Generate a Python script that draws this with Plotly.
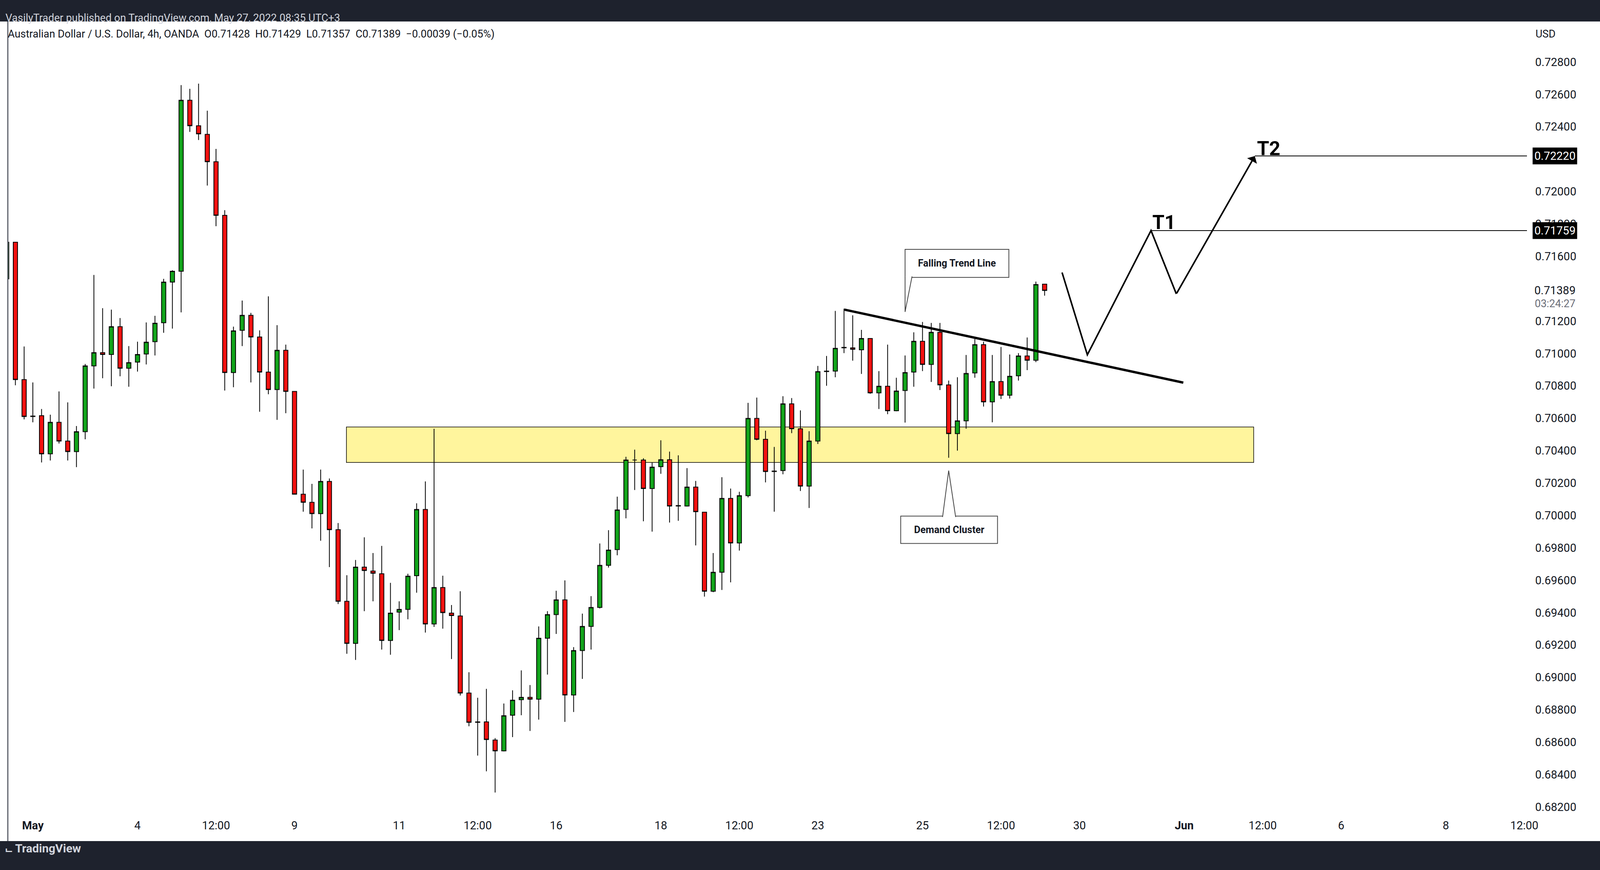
"""AUD/USD 4h chart from TradingView (VasilyTrader idea, May 27 2022) rebuilt in Plotly."""

import plotly.graph_objects as go

# 4h candles, bar index 0..119
opens = [
    0.71461, 0.71687, 0.70839, 0.70614, 0.70616, 0.70380, 0.70575, 0.70459, 0.70394, 0.70517,
    0.70923, 0.71005, 0.70994, 0.71166, 0.70909, 0.70947, 0.70997, 0.71073, 0.71190, 0.71441,
    0.71508, 0.72564, 0.72406, 0.72353, 0.72184, 0.71853, 0.70882, 0.71143, 0.71236, 0.71102,
    0.70885, 0.70777, 0.71020, 0.70766, 0.70131, 0.70081, 0.70011, 0.70210, 0.69912, 0.69470,
    0.69210, 0.69681, 0.69657, 0.69640, 0.69228, 0.69403, 0.69420, 0.69628, 0.70037, 0.69330,
    0.69555, 0.69397, 0.69379, 0.68903, 0.68725, 0.68725, 0.68613, 0.68546, 0.68766, 0.68862,
    0.68877, 0.68865, 0.69242, 0.69388, 0.69479, 0.68891, 0.69166, 0.69315, 0.69432, 0.69692,
    0.69789, 0.70037, 0.70342, 0.70342, 0.70166, 0.70301, 0.70344, 0.70061, 0.70058, 0.70175,
    0.70020, 0.69532, 0.69649, 0.70105, 0.69830, 0.70122, 0.70599, 0.70470, 0.70274, 0.70277,
    0.70689, 0.70535, 0.70181, 0.70459, 0.70888, 0.70891, 0.71038, 0.71035, 0.71023, 0.71093,
    0.70757, 0.70798, 0.70646, 0.70771, 0.70885, 0.71075, 0.70932, 0.71131, 0.70806, 0.70505,
    0.70584, 0.70880, 0.71055, 0.70701, 0.70827, 0.70742, 0.70862, 0.70985, 0.70958, 0.71428,
]
highs = [
    0.71710, 0.71687, 0.71043, 0.70821, 0.70657, 0.70622, 0.70766, 0.70698, 0.70552, 0.70935,
    0.71485, 0.71280, 0.71271, 0.71219, 0.71046, 0.71073, 0.71192, 0.71233, 0.71461, 0.71514,
    0.72657, 0.72634, 0.72666, 0.72499, 0.72263, 0.71885, 0.71166, 0.71327, 0.71251, 0.71143,
    0.71353, 0.71175, 0.71055, 0.70766, 0.70283, 0.70195, 0.70283, 0.70228, 0.69953, 0.69631,
    0.69725, 0.69865, 0.69768, 0.69812, 0.69584, 0.69470, 0.69640, 0.70075, 0.70210, 0.70535,
    0.69628, 0.69447, 0.69532, 0.69032, 0.68874, 0.68929, 0.68625, 0.68839, 0.68920, 0.69043,
    0.68953, 0.69315, 0.69409, 0.69535, 0.69599, 0.69187, 0.69394, 0.69502, 0.69827, 0.69909,
    0.70116, 0.70362, 0.70406, 0.70353, 0.70327, 0.70464, 0.70394, 0.70371, 0.70292, 0.70213,
    0.70020, 0.69768, 0.70236, 0.70166, 0.70146, 0.70695, 0.70728, 0.70523, 0.70423, 0.70736,
    0.70725, 0.70649, 0.70520, 0.70923, 0.70985, 0.71263, 0.71277, 0.71236, 0.71146, 0.71093,
    0.70891, 0.71055, 0.70850, 0.70988, 0.71131, 0.71195, 0.71189, 0.71189, 0.70833, 0.70853,
    0.70991, 0.71090, 0.71073, 0.70991, 0.71040, 0.70994, 0.71002, 0.71099, 0.71444, 0.71429,
]
lows = [
    0.71447, 0.70804, 0.70593, 0.70575, 0.70327, 0.70339, 0.70444, 0.70339, 0.70298, 0.70470,
    0.70783, 0.70847, 0.70798, 0.70859, 0.70795, 0.70888, 0.70932, 0.70988, 0.71128, 0.71154,
    0.71254, 0.72368, 0.72318, 0.72037, 0.71786, 0.70771, 0.70792, 0.71046, 0.70821, 0.70640,
    0.70748, 0.70590, 0.70631, 0.70131, 0.70023, 0.69920, 0.69844, 0.69681, 0.69453, 0.69146,
    0.69108, 0.69409, 0.69470, 0.69172, 0.69140, 0.69292, 0.69359, 0.69523, 0.69277, 0.69312,
    0.69301, 0.69113, 0.68888, 0.68698, 0.68517, 0.68420, 0.68289, 0.68543, 0.68631, 0.68766,
    0.68669, 0.68739, 0.69017, 0.69268, 0.68725, 0.68786, 0.68991, 0.69172, 0.69426, 0.69678,
    0.69754, 0.69982, 0.70157, 0.69964, 0.69900, 0.70257, 0.69956, 0.69967, 0.70055, 0.69815,
    0.69499, 0.69526, 0.69540, 0.69587, 0.69783, 0.70111, 0.70464, 0.70204, 0.70023, 0.70254,
    0.70508, 0.70151, 0.70046, 0.70441, 0.70801, 0.70853, 0.71002, 0.70956, 0.70874, 0.70751,
    0.70657, 0.70625, 0.70643, 0.70573, 0.70795, 0.70891, 0.70824, 0.70774, 0.70356, 0.70400,
    0.70535, 0.70850, 0.70672, 0.70575, 0.70719, 0.70722, 0.70833, 0.70897, 0.70947, 0.71357,
]
closes = [
    0.71687, 0.70839, 0.70611, 0.70611, 0.70380, 0.70575, 0.70459, 0.70394, 0.70517, 0.70923,
    0.71005, 0.70994, 0.71166, 0.70909, 0.70944, 0.70994, 0.71070, 0.71187, 0.71441, 0.71508,
    0.72564, 0.72406, 0.72356, 0.72184, 0.71853, 0.70882, 0.71140, 0.71236, 0.71102, 0.70885,
    0.70777, 0.71020, 0.70766, 0.70131, 0.70081, 0.70011, 0.70210, 0.69912, 0.69470, 0.69210,
    0.69681, 0.69660, 0.69643, 0.69228, 0.69397, 0.69420, 0.69625, 0.70037, 0.69330, 0.69555,
    0.69400, 0.69382, 0.68903, 0.68722, 0.68722, 0.68616, 0.68546, 0.68763, 0.68859, 0.68877,
    0.68865, 0.69242, 0.69388, 0.69479, 0.68891, 0.69166, 0.69315, 0.69432, 0.69692, 0.69786,
    0.70034, 0.70342, 0.70342, 0.70166, 0.70298, 0.70344, 0.70058, 0.70058, 0.70175, 0.70023,
    0.69532, 0.69649, 0.70105, 0.69830, 0.70122, 0.70599, 0.70470, 0.70271, 0.70271, 0.70689,
    0.70535, 0.70181, 0.70459, 0.70888, 0.70891, 0.71032, 0.71035, 0.71026, 0.71093, 0.70757,
    0.70798, 0.70646, 0.70768, 0.70882, 0.71075, 0.70932, 0.71131, 0.70806, 0.70505, 0.70584,
    0.70877, 0.71055, 0.70701, 0.70827, 0.70742, 0.70859, 0.70985, 0.70958, 0.71426, 0.71389,
]
bars = list(range(len(opens)))

# time axis labels (bar index -> text)
tick_bars = [3, 15, 24, 33, 45, 54, 63, 75, 84, 93, 105, 114, 123, 135, 144, 153, 165, 174]
tick_text = ["<b>May</b>", "4", "12:00", "9", "11", "12:00", "16", "18", "12:00", "23",
             "25", "12:00", "30", "<b>Jun</b>", "12:00", "6", "8", "12:00"]
price_ticks = [0.682 + 0.002 * k for k in range(24)]

# drawings
zone_x = [38.95, 142.97]
zone_y = [0.70327, 0.70546]
trend_x = [96.03, 134.9]
trend_y = [0.71271, 0.70820]
path_x = [121.0, 123.9, 131.2, 134.1, 143.1]
path_y = [0.71500, 0.70992, 0.71759, 0.71368, 0.72219]
t1_price = 0.71759
t2_price = 0.72220

X_RANGE = [0.13, 174.3]
Y_RANGE = [0.68134, 0.73050]
FONT = "Roboto"
INK = "#131722"
STANDOFF = 20

fig = go.Figure()

fig.add_trace(
    go.Candlestick(
        x=bars, open=opens, high=highs, low=lows, close=closes,
        increasing=dict(line=dict(color="black", width=2), fillcolor="#12a41b"),
        decreasing=dict(line=dict(color="black", width=2), fillcolor="#f21210"),
        whiskerwidth=0,
        hoverinfo="none",
    )
)

shapes = []
# demand zone
shapes.append(dict(type="rect", x0=zone_x[0], x1=zone_x[1], y0=zone_y[0], y1=zone_y[1],
                   fillcolor="#fff59d", line=dict(color="black", width=1.5), layer="below"))
# falling trend line
shapes.append(dict(type="line", x0=trend_x[0], x1=trend_x[1], y0=trend_y[0], y1=trend_y[1],
                   line=dict(color="black", width=6)))
# projected path (last leg drawn as arrow below)
zig = "M " + " L ".join(f"{x},{y}" for x, y in zip(path_x[:-1], path_y[:-1]))
shapes.append(dict(type="path", path=zig, line=dict(color="black", width=4)))
# target lines
for x0, p in [(path_x[2], t1_price), (path_x[4], t2_price)]:
    shapes.append(dict(type="line", x0=x0, x1=X_RANGE[1], y0=p, y1=p,
                       line=dict(color="black", width=2)))

# callout boxes
callouts = [
    # text, x0, x1, y0, y1, pointer base xs, base y, tip
    ("Falling Trend Line", 103.0, 114.9, 0.71470, 0.71643, (103.0, 103.8), 0.71476, (103.0, 0.71257)),
    ("Demand Cluster", 102.5, 113.6, 0.69827, 0.69996, (107.3, 108.8), 0.69990, (108.0, 0.70277)),
]
annotations = []
for text, x0, x1, y0, y1, bx, by, tip in callouts:
    shapes.append(dict(type="rect", x0=x0, x1=x1, y0=y0, y1=y1, fillcolor="white",
                       line=dict(color="#444444", width=2)))
    shapes.append(dict(type="path", path=f"M {bx[0]},{by} L {tip[0]},{tip[1]} L {bx[1]},{by} Z",
                       fillcolor="white", line=dict(color="white", width=0)))
    shapes.append(dict(type="path", path=f"M {bx[0]},{by} L {tip[0]},{tip[1]} L {bx[1]},{by}",
                       line=dict(color="#444444", width=2)))
    annotations.append(dict(x=(x0 + x1) / 2, y=(y0 + y1) / 2, text=f"<b>{text}</b>",
                            showarrow=False, font=dict(family=FONT, size=25, color=INK)))

# arrow for the last leg to T2
annotations.append(dict(x=path_x[4], y=path_y[4], ax=path_x[3], ay=path_y[3],
                        axref="x", ayref="y", xref="x", yref="y", text="",
                        showarrow=True, arrowhead=1, arrowsize=1.2, arrowwidth=4,
                        arrowcolor="black"))
annotations.append(dict(x=132.7, y=0.71810, text="<b>T1</b>", showarrow=False,
                        font=dict(family=FONT, size=50, color="black")))
annotations.append(dict(x=144.7, y=0.72265, text="<b>T2</b>", showarrow=False,
                        font=dict(family=FONT, size=50, color="black")))

# price axis labels for targets and last price (sit on top of the tick labels)
for p in [t1_price, t2_price]:
    annotations.append(dict(xref="paper", x=1, xanchor="left", xshift=STANDOFF - 6, y=p,
                            text=f"{p:.5f}", showarrow=False, bgcolor="black", borderpad=4,
                            font=dict(family=FONT, size=29, color="white")))
annotations.append(dict(xref="paper", x=1, xanchor="left", xshift=STANDOFF - 6, y=closes[-1],
                        text=f"{closes[-1]:.5f}", showarrow=False, bgcolor="white", borderpad=4,
                        font=dict(family=FONT, size=29, color=INK)))
annotations.append(dict(xref="paper", x=1, xanchor="left", xshift=STANDOFF - 2,
                        y=closes[-1] - 0.00082, text="03:24:27", showarrow=False,
                        bgcolor="white", font=dict(family=FONT, size=27, color="#6a6d78")))

# frame: dark header and footer strips
shapes.append(dict(type="rect", xref="paper", yref="paper", x0=-0.01, x1=1.05, y0=1.0, y1=1.03,
                   fillcolor="#1e222d", line=dict(width=0)))
shapes.append(dict(type="rect", xref="paper", yref="paper", x0=-0.01, x1=1.05, y0=-0.0295,
                   y1=-0.07, fillcolor="#1e222d", line=dict(width=0)))
shapes.append(dict(type="line", xref="paper", yref="paper", x0=0, x1=0, y0=-0.0295, y1=1.0,
                   line=dict(color="#5d606b", width=3)))

annotations.append(dict(xref="paper", yref="paper", x=-0.002, y=1.0135, xanchor="left",
                        text="VasilyTrader published on TradingView.com, May 27, 2022 08:35 UTC+3",
                        showarrow=False, font=dict(family=FONT, size=27, color="#d1d4dc")))
annotations.append(dict(xref="paper", yref="paper", x=-0.0005, y=0.993, xanchor="left",
                        text="Australian Dollar / U.S. Dollar, 4h, OANDA  O0.71428  H0.71429  "
                             "L0.71357  C0.71389  \u22120.00039 (\u22120.05%)",
                        showarrow=False, font=dict(family=FONT, size=27, color=INK)))
annotations.append(dict(xref="paper", yref="paper", x=1, xshift=STANDOFF, y=0.993,
                        xanchor="left", text="USD", showarrow=False,
                        font=dict(family=FONT, size=27, color=INK)))
annotations.append(dict(xref="paper", yref="paper", x=-0.002, y=-0.048, xanchor="left",
                        text="<b>\u2a3d TradingView</b>", showarrow=False,
                        font=dict(family=FONT, size=30, color="#d1d4dc")))

fig.update_layout(
    autosize=True,
    margin=dict(l=20, r=187, t=55, b=134),
    paper_bgcolor="white",
    plot_bgcolor="white",
    showlegend=False,
    shapes=shapes,
    annotations=annotations,
    xaxis=dict(
        range=X_RANGE, rangeslider=dict(visible=False), showgrid=False, zeroline=False,
        tickmode="array", tickvals=tick_bars, ticktext=tick_text, ticks="",
        tickfont=dict(family=FONT, size=29, color=INK), showline=False,
    ),
    yaxis=dict(
        range=Y_RANGE, side="right", showgrid=False, zeroline=False,
        tickmode="array", tickvals=price_ticks, tickformat=".5f", ticks="",
        ticklabelstandoff=STANDOFF,
        tickfont=dict(family=FONT, size=29, color=INK),
    ),
)

# fill the browser window, no body margin, no modebar
fig.write_html(
    "out.html",
    default_width="100vw",
    default_height="100vh",
    config={"displayModeBar": False},
    post_script="document.body.style.margin='0';document.body.style.overflow='hidden';",
)
